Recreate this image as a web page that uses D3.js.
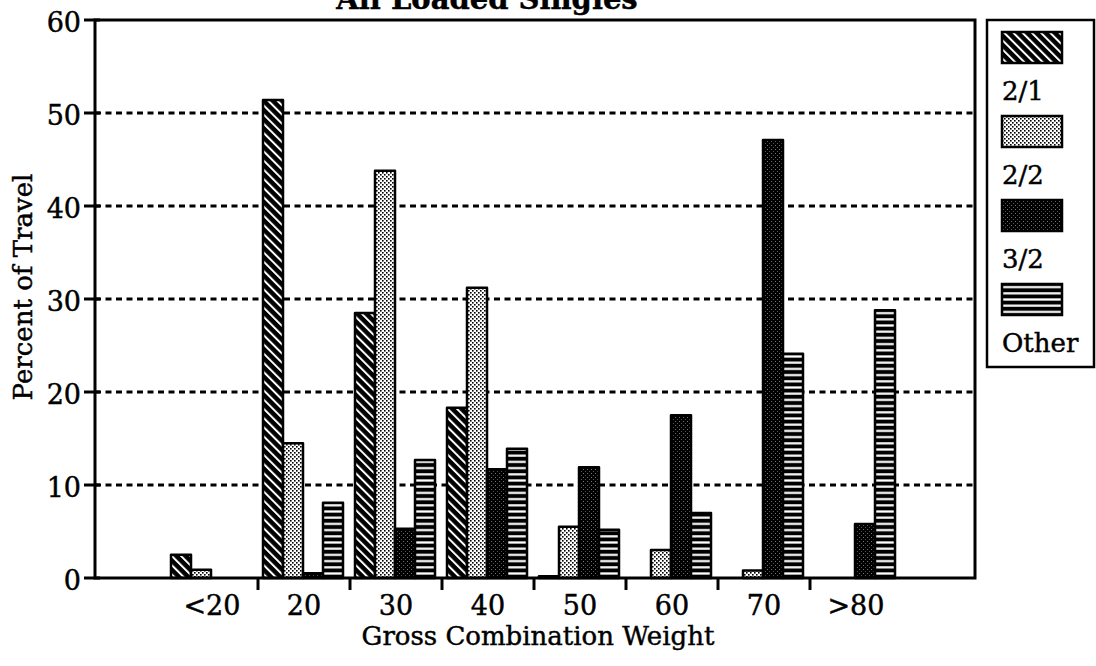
<!DOCTYPE html>
<html>
<head>
<meta charset="utf-8">
<script src="https://cdn.jsdelivr.net/npm/d3@7"></script>
<style>
  html, body { margin: 0; padding: 0; background: #fff; }
  svg { display: block; }
  text { font-family: "DejaVu Serif", "Liberation Serif", serif; fill: #000; stroke: #000; stroke-width: 0.45px; }
</style>
</head>
<body>
<svg id="chart" width="1096" height="666"></svg>
<script>
// ---- data ----
const title = "All Loaded Singles";
const xTitle = "Gross Combination Weight";
const yTitle = "Percent of Travel";
const categories = ["<20", "20", "30", "40", "50", "60", "70", ">80"];
const seriesNames = ["2/1", "2/2", "3/2", "Other"];
const values21 = [2.5, 51.4, 28.5, 18.3, 0.2, 0, 0, 0];
const values22 = [0.9, 14.5, 43.8, 31.2, 5.5, 3.0, 0.8, 0];
const values32 = [0, 0.5, 5.3, 11.7, 11.9, 17.5, 47.1, 5.8];
const valuesOther = [0, 8.1, 12.7, 13.9, 5.2, 7.0, 24.1, 28.8];
const yTicks = [0, 10, 20, 30, 40, 50, 60];
const gridTicks = [10, 20, 30, 40, 50];

const seriesValues = [values21, values22, values32, valuesOther];
const patternIds = ["pDiag", "pLight", "pDark", "pHoriz"];

// ---- layout ----
const svg = d3.select("#chart");
const plot = { left: 95, right: 975, top: 20, bottom: 578 };

const x = d3.scaleBand().domain(categories).range([166, 902]).padding(0);
const x1 = d3.scaleBand().domain(seriesNames).range([5, 85]).padding(0);
const y = d3.scaleLinear().domain([0, 60]).range([plot.bottom, plot.top]);

// ---- patterns ----
const defs = svg.append("defs");
const pd = defs.append("pattern").attr("id", "pDiag").attr("patternUnits", "userSpaceOnUse")
  .attr("width", 6.5).attr("height", 6.5).attr("patternTransform", "rotate(-45)");
pd.append("rect").attr("width", 6.5).attr("height", 6.5).attr("fill", "#000");
pd.append("rect").attr("x", 0).attr("width", 2.0).attr("height", 6.5).attr("fill", "#fff");
const pl = defs.append("pattern").attr("id", "pLight").attr("patternUnits", "userSpaceOnUse")
  .attr("width", 4).attr("height", 4);
pl.append("rect").attr("width", 4).attr("height", 4).attr("fill", "#fff");
pl.append("rect").attr("x", 0).attr("y", 0).attr("width", 1.6).attr("height", 1.6).attr("fill", "#000");
pl.append("rect").attr("x", 2).attr("y", 2).attr("width", 1.6).attr("height", 1.6).attr("fill", "#000");
const pk = defs.append("pattern").attr("id", "pDark").attr("patternUnits", "userSpaceOnUse")
  .attr("width", 4).attr("height", 4);
pk.append("rect").attr("width", 4).attr("height", 4).attr("fill", "#000");
pk.append("rect").attr("x", 1).attr("y", 1).attr("width", 1).attr("height", 1).attr("fill", "#777");
pk.append("rect").attr("x", 3).attr("y", 3).attr("width", 1).attr("height", 1).attr("fill", "#555");
const ph = defs.append("pattern").attr("id", "pHoriz").attr("patternUnits", "userSpaceOnUse")
  .attr("width", 6).attr("height", 6.2);
ph.append("rect").attr("width", 6).attr("height", 6.2).attr("fill", "#000");
ph.append("rect").attr("y", 2).attr("width", 6).attr("height", 2.2).attr("fill", "#fff");

// ---- gridlines ----
svg.append("g").selectAll("line").data(gridTicks).join("line")
  .attr("x1", plot.left).attr("x2", plot.right)
  .attr("y1", d => y(d)).attr("y2", d => y(d))
  .attr("stroke", "#000").attr("stroke-width", 3.2)
  .attr("stroke-dasharray", "6,4.5");

// ---- bars ----
const groups = svg.append("g").selectAll("g").data(categories).join("g")
  .attr("transform", d => `translate(${x(d)},0)`);
groups.selectAll("rect")
  .data((c, i) => seriesNames.map((s, k) => ({ s, k, v: seriesValues[k][i] })))
  .join("rect")
  .attr("x", d => x1(d.s))
  .attr("width", x1.bandwidth())
  .attr("y", d => y(d.v))
  .attr("height", d => y(0) - y(d.v))
  .attr("fill", d => `url(#${patternIds[d.k]})`)
  .attr("stroke", "#000").attr("stroke-width", 2.5)
  .attr("stroke-linejoin", "round");

// ---- frame ----
svg.append("rect")
  .attr("x", plot.left).attr("y", plot.top)
  .attr("width", plot.right - plot.left).attr("height", plot.bottom - plot.top)
  .attr("fill", "none").attr("stroke", "#000").attr("stroke-width", 3);

// ---- y axis ----
const yAxis = svg.append("g");
yAxis.selectAll("line").data(yTicks).join("line")
  .attr("x1", plot.left - 11).attr("x2", plot.left + 5)
  .attr("y1", d => y(d)).attr("y2", d => y(d))
  .attr("stroke", "#000").attr("stroke-width", 3);
yAxis.selectAll("text").data(yTicks).join("text")
  .attr("x", 81).attr("y", d => y(d) + 12)
  .attr("text-anchor", "end").attr("font-size", 27)
  .text(d => d);

// ---- x axis ----
const boundaries = categories.slice(1);
svg.append("g").selectAll("line").data(boundaries).join("line")
  .attr("x1", d => x(d)).attr("x2", d => x(d))
  .attr("y1", plot.bottom).attr("y2", plot.bottom + 12)
  .attr("stroke", "#000").attr("stroke-width", 3);
svg.append("g").selectAll("text").data(categories).join("text")
  .attr("x", d => x(d) + x.bandwidth() / 2).attr("y", 615)
  .attr("text-anchor", "middle").attr("font-size", 27)
  .text(d => d);

// ---- titles ----
svg.append("text").attr("x", 538).attr("y", 645)
  .attr("text-anchor", "middle").attr("font-size", 26).text(xTitle);
svg.append("text").attr("transform", "translate(32,287) rotate(-90)")
  .attr("text-anchor", "middle").attr("font-size", 26).text(yTitle);
svg.append("text").attr("x", 487).attr("y", 9)
  .attr("text-anchor", "middle").attr("font-size", 29).attr("font-weight", "bold").text(title);

// ---- legend ----
const legend = svg.append("g");
legend.append("rect").attr("x", 987).attr("y", 20).attr("width", 107).attr("height", 347)
  .attr("fill", "#fff").attr("stroke", "#000").attr("stroke-width", 2.5);
const li = legend.selectAll("g").data(seriesNames).join("g")
  .attr("transform", (d, i) => `translate(1002,${32 + i * 84})`);
li.append("rect").attr("width", 60).attr("height", 31)
  .attr("fill", (d, i) => `url(#${patternIds[i]})`)
  .attr("stroke", "#000").attr("stroke-width", 2.5);
li.append("text").attr("x", 0).attr("y", 68).attr("font-size", 26).text(d => d);
</script>
</body>
</html>
